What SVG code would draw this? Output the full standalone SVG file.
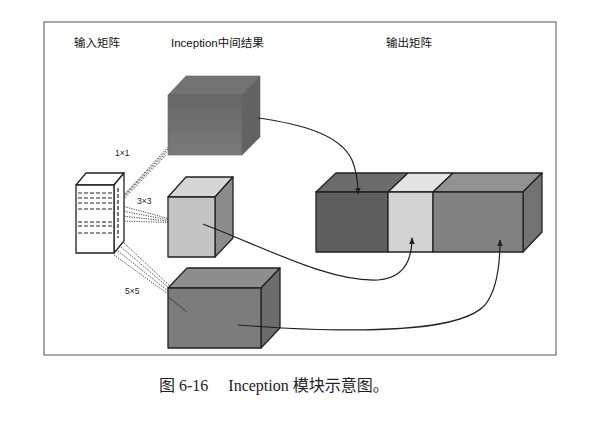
<svg xmlns="http://www.w3.org/2000/svg" width="599" height="422" viewBox="0 0 599 422">
<style>
.lbl{font-family:"Liberation Sans","Noto Sans CJK SC",sans-serif;font-size:11.5px;fill:#111}
.sm{font-family:"Liberation Sans",sans-serif;font-size:8.5px;fill:#222}
.cap{font-family:"Liberation Serif","Noto Sans CJK SC",serif;font-size:16px;fill:#222}
.edge{stroke:#222;stroke-width:1.3;stroke-linejoin:round}
.dot{stroke:#333;stroke-width:0.9;stroke-dasharray:1.2,1.2;fill:none}
.dash{stroke:#222;stroke-width:1.2;stroke-dasharray:4,2;fill:none}
.curve{stroke:#222;stroke-width:1.2;fill:none}
</style>
<defs>
<marker id="ah" viewBox="0 0 10 10" refX="9" refY="5" markerWidth="6" markerHeight="6" orient="auto">
<path d="M0,1 L10,5 L0,9 Z" fill="#222"/>
</marker>
<linearGradient id="g1" x1="0" y1="0" x2="0" y2="1">
<stop offset="0" stop-color="#666"/>
<stop offset="1" stop-color="#7a7a7a"/>
</linearGradient>
</defs>
<rect width="599" height="422" fill="#fff"/>
<rect x="44" y="22" width="512" height="333" fill="none" stroke="#555" stroke-width="1"/>
<text class="lbl" x="74" y="47">输入矩阵</text>
<text class="lbl" x="171" y="47">Inception中间结果</text>
<text class="lbl" x="386" y="47">输出矩阵</text>

<g id="connectors">
<line class="dot" x1="118" y1="205" x2="166" y2="155"/>
<line class="dot" x1="119" y1="202" x2="167" y2="152"/>
<line class="dot" x1="121" y1="199" x2="168" y2="149"/>
<line class="dot" x1="123" y1="196" x2="169" y2="146"/>
<line class="dot" x1="122" y1="206" x2="185" y2="223"/>
<line class="dot" x1="122" y1="211" x2="185" y2="223"/>
<line class="dot" x1="122" y1="216" x2="185" y2="223"/>
<line class="dot" x1="122" y1="221" x2="185" y2="223"/>
<line class="dot" x1="114" y1="255" x2="168" y2="294"/>
<line class="dot" x1="118" y1="251" x2="168" y2="291"/>
<line class="dot" x1="121" y1="247" x2="169" y2="288"/>
<line class="dot" x1="124" y1="243" x2="170" y2="286"/>
</g>

<g id="input-matrix">
<polygon points="76,185 86,173 124,173 114,185" fill="#fff" class="edge"/>
<polygon points="114,185 124,173 124,241 114,253" fill="#fff" class="edge"/>
<rect x="76" y="185" width="38" height="68" fill="#fff" class="edge"/>
<line class="dash" x1="78" y1="193" x2="112" y2="193"/>
<line class="dash" x1="78" y1="198" x2="112" y2="198"/>
<line class="dash" x1="78" y1="203" x2="112" y2="203"/>
<line class="dash" x1="78" y1="209" x2="112" y2="209"/>
<line class="dash" x1="78" y1="222" x2="112" y2="222"/>
<line class="dash" x1="78" y1="226" x2="112" y2="226"/>
<line class="dash" x1="78" y1="233" x2="112" y2="233"/>
<line class="dash" x1="118" y1="188" x2="118" y2="238"/>
</g>

<g id="conv1x1">
<polygon points="168,95 186,76 260,76 242,95" fill="#727272" stroke="#666" stroke-width="0.6"/>
<polygon points="242,95 260,76 260,137 242,155" fill="#626262" stroke="#666" stroke-width="0.6"/>
<rect x="168" y="95" width="74" height="60" fill="url(#g1)" stroke="#666" stroke-width="0.6"/>
</g>
<text class="sm" x="115" y="156">1×1</text>

<g id="conv3x3">
<polygon points="168,197 186,177 233,177 215,197" fill="#d6d6d6" class="edge"/>
<polygon points="215,197 233,177 233,238 215,257" fill="#8c8c8c" class="edge"/>
<rect x="168" y="197" width="47" height="60" fill="#c4c4c4" class="edge"/>
</g>
<text class="sm" x="137" y="204">3×3</text>

<g id="conv5x5">
<polygon points="168,288 187,268 280,268 261,288" fill="#8e8e8e" class="edge"/>
<polygon points="261,288 280,268 280,328 261,348" fill="#6c6c6c" class="edge"/>
<rect x="168" y="288" width="93" height="60" fill="#7c7c7c" class="edge"/>
<line x1="168" y1="297" x2="187" y2="312" stroke="#333" stroke-width="0.8"/>
</g>
<text class="sm" x="125" y="294">5×5</text>

<g id="output-matrix">
<polygon points="316,192 336,173 408,173 388,192" fill="#6c6c6c" class="edge"/>
<polygon points="388,192 408,173 453,173 433,192" fill="#e4e4e4" class="edge"/>
<polygon points="433,192 453,173 542,173 523,192" fill="#929292" class="edge"/>
<polygon points="523,192 542,173 542,232 523,252" fill="#727272" class="edge"/>
<rect x="316" y="192" width="72" height="60" fill="#5e5e5e" class="edge"/>
<rect x="388" y="192" width="45" height="60" fill="#d2d2d2" class="edge"/>
<rect x="433" y="192" width="90" height="60" fill="#828282" class="edge"/>
</g>

<g id="arrows">
<path class="curve" d="M258,118 C300,124 340,134 352,160 C357,172 358,182 358,194" marker-end="url(#ah)"/>
<path class="curve" d="M203,224 C270,250 330,282 378,280 C404,278 412,260 412,238" marker-end="url(#ah)"/>
<path class="curve" d="M238,325 L282,328 C380,333 462,330 485,305 C497,290 500,265 500,240" marker-end="url(#ah)"/>
</g>

<text class="cap" x="159" y="391">图 6-16　 Inception 模块示意图。</text>
</svg>
